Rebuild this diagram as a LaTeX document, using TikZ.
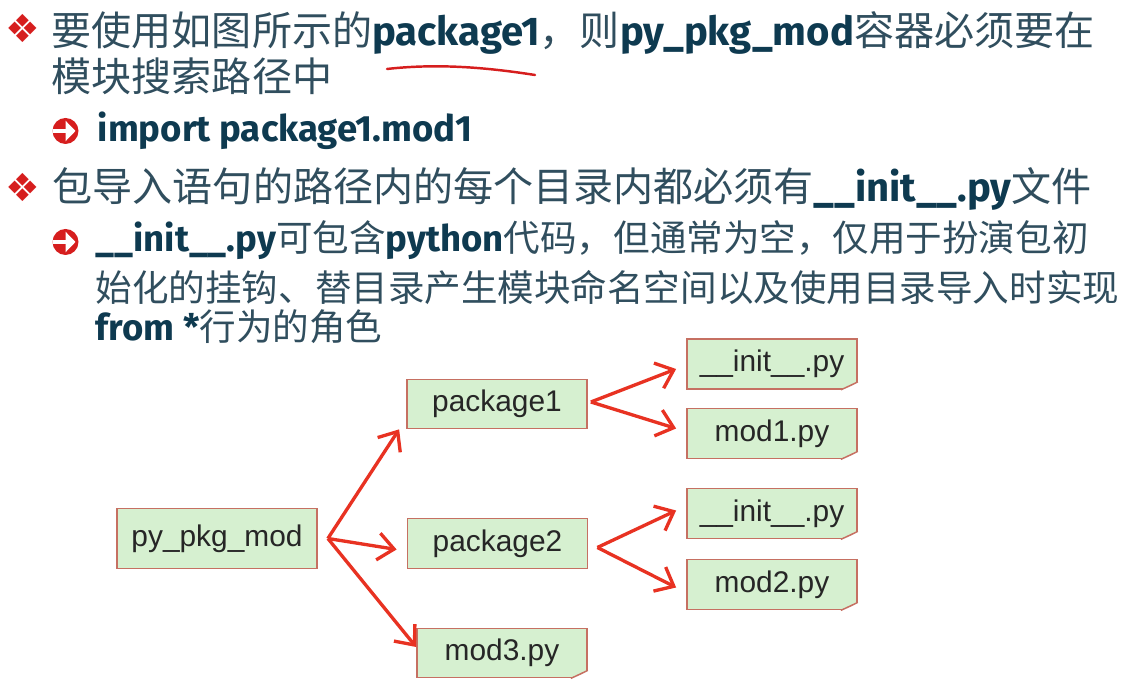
\documentclass[tikz,border=0pt]{standalone}
\usepackage{fontspec}
\usepackage{xcolor}
\usetikzlibrary{arrows.meta}
\setmainfont{Liberation Sans}
\newfontfamily\cjk{Noto Sans CJK SC}
\newfontfamily\codefnt{Fira Sans}
\newfontfamily\symfnt{DejaVu Sans}
\definecolor{txtcol}{RGB}{48,78,94}
\definecolor{codecol}{RGB}{14,58,80}
\definecolor{bulletred}{RGB}{214,30,30}
\definecolor{boxfill}{RGB}{214,240,208}
\definecolor{boxline}{RGB}{198,112,98}
\definecolor{foldcol}{RGB}{232,178,162}
\definecolor{arrowred}{RGB}{232,50,34}
\newcommand{\kw}[1]{{\codefnt\bfseries\color{codecol}#1}}

\begin{document}
\begin{tikzpicture}[
  lvlone/.style={anchor=base west, inner sep=0pt, text=txtcol, font=\cjk\fontsize{11.4pt}{13pt}\selectfont},
  lvltwo/.style={anchor=base west, inner sep=0pt, text=txtcol, font=\cjk\fontsize{10.4pt}{12pt}\selectfont},
  bulletmark/.style={inner sep=0pt, text=bulletred, font=\symfnt\fontsize{11pt}{12pt}\selectfont},
  pointer/.style={circle, fill=bulletred, minimum size=0.26cm, inner sep=0pt,
    path picture={\draw[white, line width=1.4pt, -{Triangle[length=1mm,width=2mm]}]
      ([xshift=-0.14cm]path picture bounding box.center) -- ([xshift=0.1cm]path picture bounding box.center);}},
  dirbox/.style={draw=boxline, fill=boxfill, line width=0.5pt, inner sep=0pt, text=black!85, font=\fontsize{8.5pt}{10pt}\selectfont},
  link/.style={draw=arrowred, line width=0.95pt, -{Straight Barb[length=1.6mm,width=2.7mm]}}
]
\useasboundingbox (0,0) rectangle (11.4,-6.91);

% text lines
\node[bulletmark] (b1) at (0.225,-0.285) {❖};
\node[lvlone] (l1) at (0.51,-0.455) {要使用如图所示的\kw{package1}，则\kw{py\_pkg\_mod}容器必须要在};
\node[lvlone] (l2) at (0.51,-0.92) {模块搜索路径中};
\node[pointer] (b2) at (0.655,-1.31) {};
\node[lvltwo] (l3) at (0.97,-1.42) {\kw{import package1.mod1}};
\node[bulletmark] (b3) at (0.225,-1.87) {❖};
\node[lvlone] (l4) at (0.52,-2.015) {包导入语句的路径内的每个目录内都必须有\kw{\_\_init\_\_.py}文件};
\node[pointer] (b4) at (0.655,-2.42) {};
\node[lvltwo] (l5) at (0.95,-2.52) {\kw{\_\_init\_\_.py}可包含\kw{python}代码，但通常为空，仅用于扮演包初};
\node[lvltwo] (l6) at (0.95,-3.015) {始化的挂钩、替目录产生模块命名空间以及使用目录导入时实现};
\node[lvltwo] (l7) at (0.95,-3.41) {\kw{from *}行为的角色};

% red pen marks
\draw[bulletred, line width=0.7pt, line cap=round] (3.87,-0.69) .. controls (4.4,-0.63) and (4.9,-0.68) .. (5.35,-0.75);
\draw[bulletred, line width=0.9pt, line cap=round] (4.40,-4.23) .. controls (4.45,-4.20) .. (4.53,-4.21);

% boxes
\node[dirbox, minimum width=2.00cm, minimum height=0.60cm] (root) at (2.17,-5.385) {py\_pkg\_mod};
\node[dirbox, minimum width=1.80cm, minimum height=0.49cm] (pkgA) at (4.97,-4.04) {package1};
\node[dirbox, minimum width=1.70cm, minimum height=0.50cm] (initA) at (7.72,-3.64) {\_\_init\_\_.py};
\node[dirbox, minimum width=1.70cm, minimum height=0.50cm] (modA) at (7.72,-4.335) {mod1.py};
\node[dirbox, minimum width=1.80cm, minimum height=0.50cm] (pkgB) at (4.975,-5.435) {package2};
\node[dirbox, minimum width=1.70cm, minimum height=0.50cm] (initB) at (7.72,-5.135) {\_\_init\_\_.py};
\node[dirbox, minimum width=1.70cm, minimum height=0.50cm] (modB) at (7.72,-5.845) {mod2.py};
\node[dirbox, minimum width=1.70cm, minimum height=0.49cm] (modC) at (5.02,-6.53) {mod3.py};

% folded corners of the files
\foreach \f in {initA,modA,initB,modB,modC} {
  \fill[white] ([xshift=-0.17cm]\f.south east) -- ([shift={(0.02,-0.02)}]\f.south east) -- ([yshift=0.08cm]\f.south east) -- cycle;
  \filldraw[fill=foldcol, draw=boxline, line width=0.4pt] ([xshift=-0.17cm]\f.south east) -- ([yshift=0.08cm]\f.south east) -- ([shift={(-0.06,0.05)}]\f.south east) -- cycle;
}

% connectors
\draw[link] ([xshift=0.1cm]root.east) -- ([xshift=-0.07cm]pkgA.south west);
\draw[link] ([xshift=0.1cm]root.east) -- ([shift={(-0.1,-0.06)}]pkgB.west);
\draw[link] ([xshift=0.1cm]root.east) -- ([yshift=0.06cm]modC.west);
\draw[link] ([shift={(0.03,0.02)}]pkgA.east) -- ([shift={(-0.1,-0.05)}]initA.west);
\draw[link] ([shift={(0.03,0.02)}]pkgA.east) -- ([shift={(-0.1,0.05)}]modA.west);
\draw[link] ([shift={(0.09,-0.04)}]pkgB.east) -- ([shift={(-0.1,0.03)}]initB.west);
\draw[link] ([shift={(0.09,-0.04)}]pkgB.east) -- ([shift={(-0.1,-0.03)}]modB.west);
\end{tikzpicture}
\end{document}
